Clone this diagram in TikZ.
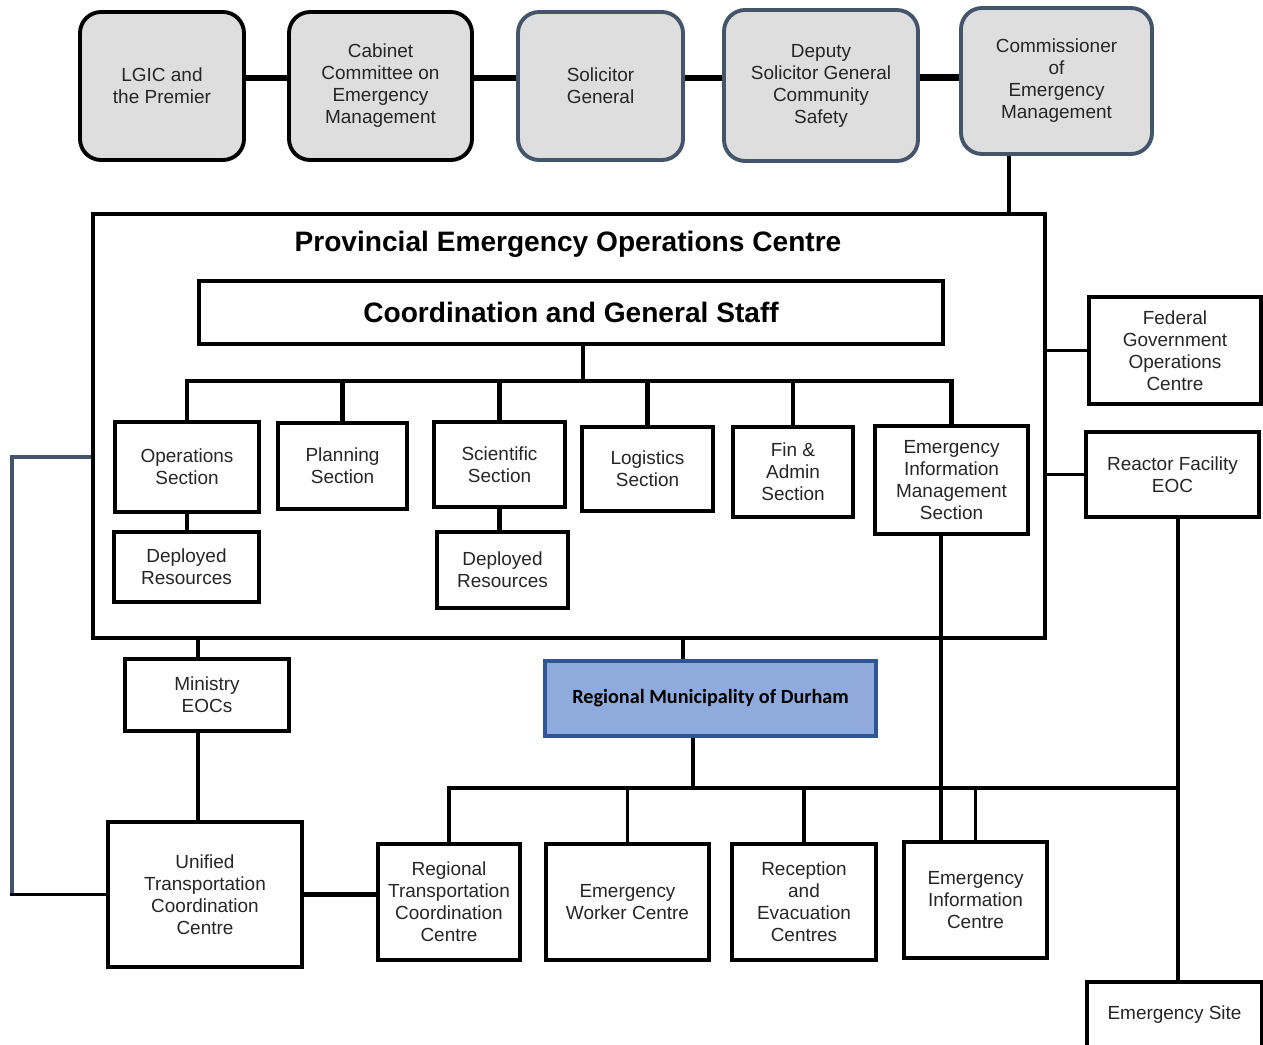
\documentclass[tikz,border=0pt]{standalone}
\usepackage{fontspec}
\setmainfont{Liberation Sans}
\newfontfamily\durhamfont{Carlito}
\usetikzlibrary{positioning}
\definecolor{TopGrey}{RGB}{222,222,222}
\definecolor{SlateEdge}{RGB}{68,84,106}
\definecolor{DurhamFill}{RGB}{143,170,220}
\definecolor{DurhamEdge}{RGB}{47,85,151}
\tikzset{
  sz/.style 2 args={minimum width=#1*0.02cm, minimum height=#2*0.02cm},
  topbox/.style={draw=black, line width=2.2pt, fill=TopGrey, rounded corners=12pt, align=center,
    inner sep=2pt, font=\fontsize{10.8}{12.5}\selectfont, text=black!85},
  slatebox/.style={topbox, draw=SlateEdge},
  secbox/.style={draw, line width=2.4pt, fill=white, align=center, inner sep=2pt,
    font=\fontsize{10.8}{12.5}\selectfont, text=black!85},
  headtxt/.style={font=\fontsize{16}{19}\selectfont\bfseries},
  thickln/.style={line width=3.8pt},
  midln/.style={line width=2.3pt},
  thinln/.style={line width=2pt},
}

\begin{document}
\begin{tikzpicture}[x=0.02cm, y=-0.02cm]
  \useasboundingbox (0,0) rectangle (1263,1044);
  % top row
  \node[topbox, sz={164}{148}] (lgic) at (162,86) {LGIC and\\the Premier};
  \node[topbox, sz={183}{148}] (cab) at (380.5,86) {Cabinet\\Committee on\\Emergency\\Management};
  \node[slatebox, sz={165}{148}] (sol) at (600.5,86) {Solicitor\\General};
  \node[slatebox, sz={194}{151}] (dep) at (821,85.5) {Deputy\\Solicitor General\\Community\\Safety};
  \node[slatebox, sz={191}{146}] (comm) at (1056.5,81) {Commissioner\\of\\Emergency\\Management};
  \foreach \a/\b in {lgic/cab,cab/sol,sol/dep,dep/comm}
    \draw[thickln] ([yshift=4.5pt]\a.east) -- ([yshift=4.5pt]\a.east -| \b.west);

  % provincial EOC
  \node[draw, line width=2.8pt, sz={952}{424}] (peoc) at (569,426) {};
  \coordinate (cstub) at (1009,0);
  \draw[thinln] (comm.south -| cstub) -- (peoc.north -| cstub);
  \node[headtxt] (ptitle) at (568,244) {Provincial Emergency Operations Centre};
  \node[draw, line width=2.4pt, sz={744}{63}, headtxt] (cgs) at (571,312.5) {Coordination and General Staff};

  \node[secbox, sz={144}{90}] (ops) at (187,467) {Operations\\Section};
  \node[secbox, sz={129}{86}] (plan) at (342.5,466) {Planning\\Section};
  \node[secbox, sz={131}{85}] (sci) at (499.5,464.5) {Scientific\\Section};
  \node[secbox, sz={131}{84}] (logi) at (647.5,469) {Logistics\\Section};
  \node[secbox, sz={120}{90}] (fin) at (793,472) {Fin \&\\Admin\\Section};
  \node[secbox, sz={153}{108}] (eims) at (951.5,480) {Emergency\\Information\\Management\\Section};
  \node[secbox, sz={145}{70}] (dep1) at (186.5,567) {Deployed\\Resources};
  \node[secbox, sz={131}{76}] (dep2) at (502.5,570) {Deployed\\Resources};

  \coordinate (bus) at (583,381);
  \draw[midln] (cgs.south -| bus) -- (bus);
  \draw[midln] (ops.north) |- (bus) -| (eims.north);
  \foreach \s in {plan,sci,logi,fin}
    \draw[midln] (\s.north) -- (\s.north |- bus);
  \draw[midln] (ops.south) -- (ops.south |- dep1.north);
  \draw[midln] (sci.south) -- (sci.south |- dep2.north);

  % right side
  \node[secbox, sz={172}{107}] (fed) at (1175,350.5) {Federal\\Government\\Operations\\Centre};
  \node[secbox, sz={173}{85}] (reactor) at (1172.5,474.5) {Reactor Facility\\EOC};
  \node[secbox, sz={175}{66}] (esite) at (1174.5,1015) {Emergency Site};
  \draw[thinln] (fed.west) -- (fed.west -| peoc.east);
  \draw[thinln] (reactor.west) -- (reactor.west -| peoc.east);
  \coordinate (rx) at (1178,0);
  \draw[thinln] (reactor.south -| rx) -- (esite.north -| rx);

  % left side
  \node[secbox, sz={164}{72}] (min) at (207,695) {Ministry\\EOCs};
  \node[secbox, sz={194}{145}] (utcc) at (205,894.5) {Unified\\Transportation\\Coordination\\Centre};
  \coordinate (mx) at (198,0);
  \draw[thinln] (peoc.south -| mx) -- (min.north -| mx);
  \draw[thinln] (min.south -| mx) -- (utcc.north -| mx);
  \coordinate (lk) at (12,457);
  \draw[thinln, SlateEdge] (peoc.west |- lk) -- (lk) -- (lk |- utcc.west);
  \draw[thinln, line cap=rect] (lk |- utcc.west) -- (utcc.west);

  % regional level
  \node[draw=DurhamEdge, line width=1.8pt, fill=DurhamFill, sz={331}{75},
    font=\durhamfont\fontsize{11.5}{14}\selectfont\bfseries] (durham) at (710.5,698.5) {Regional Municipality of Durham};
  \node[secbox, sz={142}{116}] (rtcc) at (449,902) {Regional\\Transportation\\Coordination\\Centre};
  \node[secbox, sz={163}{116}] (ewc) at (627.5,902) {Emergency\\Worker Centre};
  \node[secbox, sz={144}{116}] (rec) at (804,902) {Reception\\and\\Evacuation\\Centres};
  \node[secbox, sz={143}{116}] (eic) at (975.5,900) {Emergency\\Information\\Centre};
  \coordinate (dtop) at (683,0);
  \draw[thinln] (peoc.south -| dtop) -- (durham.north -| dtop);
  \coordinate (dbus) at (693,788);
  \draw[thinln] (durham.south -| dbus) -- (dbus);
  \draw[thinln] (rtcc.north) |- (dbus -| rx);
  \foreach \s in {ewc,rec,eic}
    \draw[thinln] (\s.north) -- (\s.north |- dbus);
  \coordinate (ex) at (941,0);
  \draw[thinln] (eims.south -| ex) -- (eic.north -| ex);
  \draw[midln] (utcc.east) -- (utcc.east -| rtcc.west);
\end{tikzpicture}
\end{document}
